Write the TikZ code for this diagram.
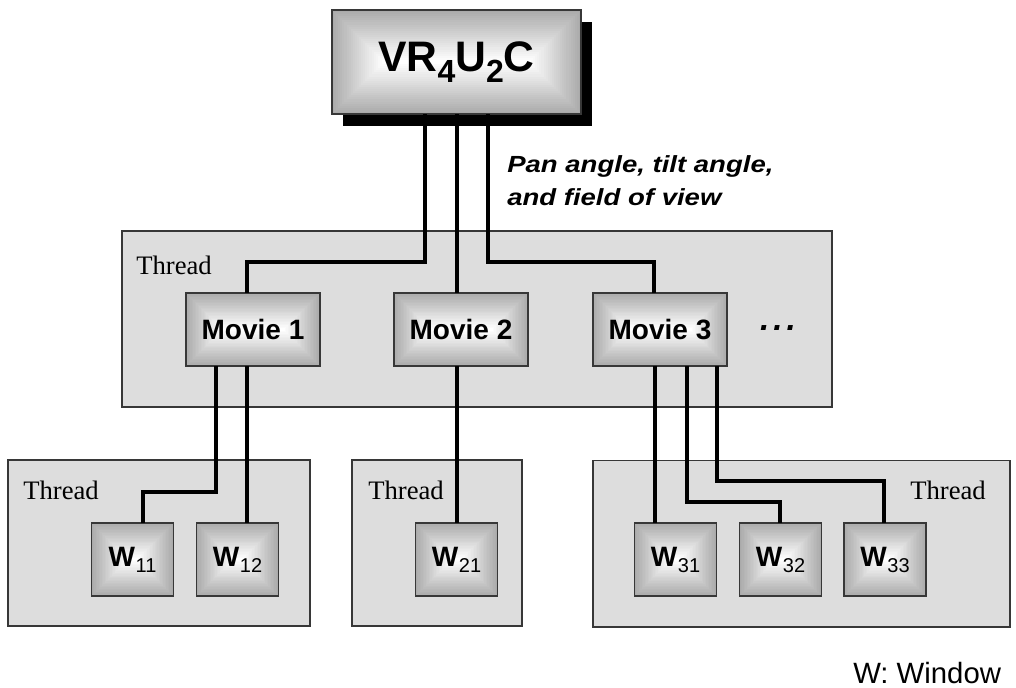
\documentclass[tikz,border=0pt]{standalone}
\usepackage{fontspec}
\setmainfont{Liberation Sans}
\newfontfamily\serifthread{Liberation Serif}
\newfontfamily\panfont[FakeStretch=1.18]{Liberation Sans}
\usetikzlibrary{calc}
\definecolor{threadgray}{RGB}{221,221,221}
\definecolor{edgegray}{RGB}{170,170,170}
\definecolor{borderc}{RGB}{55,55,55}
\tikzset{
  gradfill/.style={path picture={%
    \pgfpointdiff{\pgfpointanchor{path picture bounding box}{south west}}{\pgfpointanchor{path picture bounding box}{north east}}%
    \pgfgetlastxy{\gw}{\gh}%
    \foreach \k in {0,...,24}{%
      \pgfmathsetmacro\ins{\k*\gh/50}%
      \pgfmathsetmacro\mix{100*\k/24}%
      \fill[white!\mix!edgegray] ([shift={(\ins pt,\ins pt)}]path picture bounding box.south west) rectangle ([shift={(-\ins pt,-\ins pt)}]path picture bounding box.north east);
    }}},
  box/.style={draw=borderc, line width=1.2pt, inner sep=0pt, outer sep=0pt, gradfill,
    font=\fontsize{21}{24}\selectfont\bfseries},
  moviebox/.style={box, minimum width=100.5pt, minimum height=54.75pt},
  winbox/.style={box, minimum width=61.5pt, minimum height=54.75pt},
  threadbox/.style={draw=borderc, fill=threadgray, line width=1pt, inner sep=0pt, outer sep=0pt},
  threadlabel/.style={font=\serifthread\fontsize{20}{22}\selectfont, anchor=base west, inner sep=0pt},
  wire/.style={line width=3pt},
  thinwire/.style={line width=2.3pt},
}
\newcommand{\wsub}[1]{W\kern0.5pt\raisebox{-4.5pt}{\fontsize{15}{15}\selectfont\mdseries #1}}
\begin{document}
\begin{tikzpicture}[x=0.75pt,y=-0.75pt]
\useasboundingbox[fill=white] (0,0) rectangle (1016,688);
% thread containers
\node[threadbox, minimum width=532.5pt, minimum height=132pt] (T0) at (477,319) {};
\node[threadbox, minimum width=226.5pt, minimum height=124.5pt] (T1) at (159,543) {};
\node[threadbox, minimum width=127.5pt, minimum height=124.5pt] (T2) at (437,543) {};
\node[threadbox, minimum width=312.75pt, minimum height=125pt] (T3) at (801.5,543.5) {};
\node[threadlabel] (L0) at (136,274) {Thread};
\node[threadlabel] (L1) at (23,499) {Thread};
\node[threadlabel] (L2) at (368,499) {Thread};
\node[threadlabel] (L3) at (910,499) {Thread};
% top box
\node[fill=black, inner sep=0pt, outer sep=0pt, minimum width=186.75pt, minimum height=78pt] (VRshadow) at (467.5,74) {};
\node[box, minimum width=186.75pt, minimum height=78pt, font=\fontsize{32}{34}\selectfont\bfseries] (VR) at (456.5,62)
  {VR\raisebox{-8.25pt}{\fontsize{24}{24}\selectfont 4}U\raisebox{-8.25pt}{\fontsize{24}{24}\selectfont 2}C};
% movies
\node[moviebox] (M1) at (253,329.5) {Movie 1};
\node[moviebox] (M2) at (461,329.5) {Movie 2};
\node[moviebox] (M3) at (660,329.5) {Movie 3};
\node[anchor=base, inner sep=0pt, font=\fontsize{25}{26}\selectfont\bfseries\itshape] (dots) at (778,330) {.\kern3pt.\kern3pt.};
% windows
\node[winbox] (W11) at (132.5,559.5) {\wsub{11}};
\node[winbox] (W12) at (237.5,559.5) {\wsub{12}};
\node[winbox] (W21) at (456.5,559.5) {\wsub{21}};
\node[winbox] (W31) at (675.5,559.5) {\wsub{31}};
\node[winbox] (W32) at (780.5,559.5) {\wsub{32}};
\node[winbox] (W33) at (885,559.5) {\wsub{33}};
% wires
\draw[wire] (VR.south -| 425,0) -- (425,262) -| (M1.north -| 247,0);
\draw[thinwire] (VR.south -| 457,0) -- (M2.north -| 457,0);
\draw[wire] (VR.south -| 488,0) -- (488,262) -| (M3.north -| 654,0);
\draw[thinwire] (M1.south -| 216,0) -- (216,492) -| (W11.north -| 143,0);
\draw[wire] (M1.south -| 247,0) -- (W12.north -| 247,0);
\draw[thinwire] (M2.south -| 457,0) -- (W21.north -| 457,0);
\draw[wire] (M3.south -| 655,0) -- (W31.north -| 655,0);
\draw[thinwire] (M3.south -| 687,0) -- (687,502) -| (W32.north -| 780,0);
\draw[thinwire] (M3.south -| 717,0) -- (717,481) -| (W33.north -| 884,0);
% labels
\node[anchor=base west, align=left, inner sep=0pt, font=\panfont\fontsize{17.5}{24.75}\selectfont\bfseries\itshape] (pan) at (507,205) {Pan angle, tilt angle,\\and field of view};
\node[anchor=base west, inner sep=0pt, font=\fontsize{22}{24}\selectfont] (legend) at (853,683) {W: Window};
\end{tikzpicture}
\end{document}
